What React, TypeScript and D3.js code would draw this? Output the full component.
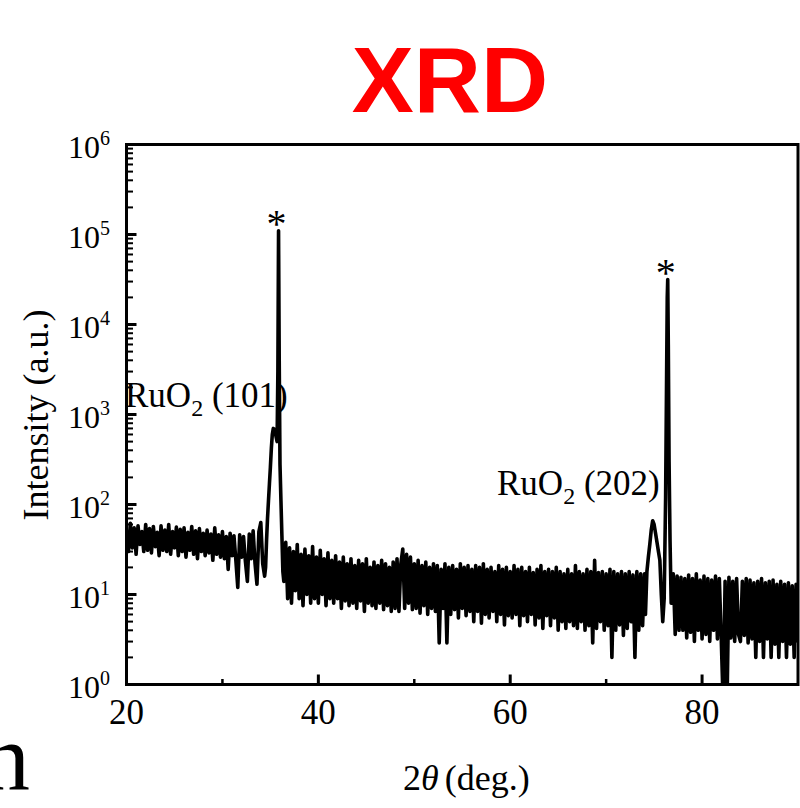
import React from "react";
import * as d3 from "d3";

const bgStart = 20;
const bgStep = 0.2;
const bgIntensity = [
  48, 30, 62, 33, 55, 28, 58, 36, 50, 30,
  60, 31, 54, 29, 57, 34, 49, 27, 58, 31,
  52, 30, 60, 28, 50, 33, 56, 27, 53, 30,
  55, 26, 49, 31, 57, 28, 51, 25, 54, 30,
  48, 27, 52, 29, 47, 24, 55, 28, 46, 26,
  50, 25, 44, 19, 48, 27, 45, 24, 12, 46,
  26, 44, 23, 14, 47, 25, 51, 22, 13, 50,
  63, 22, 16, 40, 110, 260, 600, 700, 640, 500,
  280, 45, 14, 38, 9, 33, 8, 30, 11, 36,
  9, 28, 7.5, 32, 10, 27, 8, 34, 9, 26,
  8, 31, 10, 25, 7.5, 29, 9, 24, 8, 27,
  9, 23, 7, 26, 8.5, 22, 7.5, 25, 8, 21,
  7, 24, 8.5, 22, 6.5, 25, 8, 20, 7.5, 23,
  7, 21, 8, 24, 6.8, 22, 7.5, 20, 6.5, 23,
  7, 25, 6.5, 22, 32, 7, 28, 8, 26, 6.8,
  22, 7, 24, 6.2, 21, 7.5, 23, 6, 20, 7,
  22, 6.5, 21, 2.9, 19, 7, 22, 2.9, 20, 6,
  21, 6.8, 19, 5.5, 22, 7, 20, 5.8, 21, 6.5,
  19, 5, 21, 6.5, 20, 4.8, 22, 6, 19, 5.5,
  20, 6.5, 18, 5, 21, 6, 19, 4.6, 20, 5.8,
  18, 5.5, 21, 6, 19, 4.5, 20, 5.8, 18, 5,
  20, 6, 17.5, 4.6, 19, 5.5, 21, 4.2, 18, 5.8,
  19, 4.5, 18, 5.5, 20, 4, 18, 5, 17, 4.2,
  19, 5, 17, 4.5, 21, 4.2, 18, 5, 17, 4,
  19, 4.5, 18, 2.9, 24, 4.2, 17.5, 5, 18, 4,
  17, 4.5, 19, 2, 18, 4, 17, 4.6, 18, 3.5,
  17, 4.2, 18, 5, 16.5, 2, 18, 4, 17, 4.5,
  17, 20, 45, 66, 50, 30, 12, 6, 4.5, 5,
  10, 200, 31600, 200, 10, 17, 3.6, 16, 4, 15.5,
  4, 15, 3.3, 16.5, 3.8, 15, 3, 17, 4, 14.5,
  3.2, 16, 3.6, 15, 3, 14.5, 4, 16, 3.2, 15,
  3.2, 0.6, 14, 0.6, 15.5, 3.3, 14, 3, 15, 3.6,
  3, 14, 3.5, 15, 2.9, 14.5, 3.2, 13.5, 2, 14,
  3, 15, 2, 13.5, 3.2, 14, 2, 14.5, 2.8, 13,
  2, 14, 3, 13, 2, 13.5, 2.8, 12.5, 2, 13,
  3,
];

// RuO2 (101) hump + substrate peak (fine sampling)
const peak101Theta = [34.5, 34.6, 34.7, 34.8, 34.9, 35.0, 35.1, 35.2, 35.3, 35.4, 35.5, 35.6, 35.7, 35.78, 35.85, 35.92, 36.0, 36.1, 36.2, 36.3];
const peak101Intensity = [20, 40, 70, 110, 170, 260, 420, 600, 700, 690, 640, 560, 500, 3000, 110000, 4000, 280, 110, 45, 18];

// RuO2 (202) hump + substrate peak (fine sampling)
const peak202Theta = [74.1, 74.25, 74.4, 74.55, 74.7, 74.85, 75.0, 75.15, 75.3, 75.45, 75.6, 75.75, 75.9, 76.05, 76.2, 76.3, 76.37, 76.42, 76.48, 76.56, 76.66, 76.78];
const peak202Intensity = [6, 18, 26, 36, 52, 66, 60, 48, 38, 30, 24, 10, 5, 9, 120, 2500, 20000, 31600, 6000, 300, 40, 8];

const xTicks = [20, 40, 60, 80];
const xMinorTicks = [30, 50, 70];
const yDecades = [0, 1, 2, 3, 4, 5, 6];
const xDomain = [20, 90];
const yDomain = [1, 1e6];

const annotationLabels = ["(101)", "(202)"];
const starPeakTheta = [35.85, 76.42];
const starPeakIntensity = [110000, 31600];

const W = 800;
const H = 808;
const M = { left: 126.5, right: 798, top: 144.5, bottom: 684.5 };

const serif = "'Liberation Serif', 'Times New Roman', serif";

export default function App() {
  const x = d3.scaleLinear().domain(xDomain).range([M.left, M.right]);
  const y = d3.scaleLog().domain(yDomain).range([M.bottom, M.top]);

  const inPeak = (t: number) => (t > 34.45 && t < 36.35) || (t > 74.05 && t < 76.9);
  const bg = bgIntensity
    .map((v, i) => ({ t: +(bgStart + i * bgStep).toFixed(2), v }))
    .filter((d) => !inPeak(d.t));
  const p1 = peak101Theta.map((t, i) => ({ t, v: peak101Intensity[i] }));
  const p2 = peak202Theta.map((t, i) => ({ t, v: peak202Intensity[i] }));
  const data = [...bg, ...p1, ...p2].sort((a, b) => a.t - b.t);

  const line = d3
    .line<{ t: number; v: number }>()
    .x((d) => x(d.t))
    .y((d) => y(Math.max(d.v, 0.3)));

  const minorY: number[] = [];
  for (let k = 0; k < 6; k++) for (let m = 2; m <= 9; m++) minorY.push(m * Math.pow(10, k));

  const annPos = [
    { x: 125, y: 407 },
    { x: 497, y: 495 },
  ];

  return (
    <>
      <style>{`body{margin:0}`}</style>
      <svg width={W} height={H} style={{ display: "block", background: "#fff" }}>
        <defs>
          <clipPath id="plot">
            <rect x={M.left} y={M.top} width={M.right - M.left} height={M.bottom - M.top} />
          </clipPath>
        </defs>

        <text x={450} y={112} textAnchor="middle" fontFamily="'Liberation Sans', Arial, sans-serif" fontWeight="bold" fontSize={93} fill="#ff0000">
          XRD
        </text>

        <g clipPath="url(#plot)">
          <path d={line(data) || ""} fill="none" stroke="#000" strokeWidth={3.6} strokeLinejoin="round" strokeLinecap="round" />
        </g>

        {/* frame */}
        <rect x={M.left} y={M.top} width={M.right - M.left} height={M.bottom - M.top} fill="none" stroke="#000" strokeWidth={3} />

        {/* x ticks */}
        {xTicks.map((t) => (
          <line key={"xt" + t} x1={x(t)} x2={x(t)} y1={M.bottom} y2={M.bottom - 10} stroke="#000" strokeWidth={3} />
        ))}
        {xMinorTicks.map((t) => (
          <line key={"xm" + t} x1={x(t)} x2={x(t)} y1={M.bottom} y2={M.bottom - 5.5} stroke="#000" strokeWidth={2.5} />
        ))}
        {xTicks.map((t) => (
          <text key={"xl" + t} x={x(t)} y={724} textAnchor="middle" fontFamily={serif} fontSize={35}>
            {t}
          </text>
        ))}

        {/* y ticks */}
        {yDecades.map((k) => (
          <line key={"yt" + k} x1={M.left} x2={M.left + 10} y1={y(Math.pow(10, k))} y2={y(Math.pow(10, k))} stroke="#000" strokeWidth={3} />
        ))}
        {minorY.map((v) => (
          <line key={"ym" + v} x1={M.left} x2={M.left + 6.5} y1={y(v)} y2={y(v)} stroke="#000" strokeWidth={2} />
        ))}
        {yDecades.map((k) => (
          <g key={"yl" + k} fontFamily={serif}>
            <text x={100} y={y(Math.pow(10, k)) + 13} textAnchor="end" fontSize={32}>
              10
            </text>
            <text x={100} y={y(Math.pow(10, k)) + 0.5} textAnchor="start" fontSize={20}>
              {k}
            </text>
          </g>
        ))}

        {/* axis labels */}
        <text x={403} y={790} fontFamily={serif} fontSize={36}>
          2<tspan fontStyle="italic">θ</tspan>
          <tspan dx={6}>(deg.)</tspan>
        </text>
        <text transform="translate(48,415) rotate(-90)" textAnchor="middle" fontFamily={serif} fontSize={36}>
          Intensity (a.u.)
        </text>

        {/* annotations */}
        {annotationLabels.map((lab, i) => (
          <text key={"a" + i} x={annPos[i].x} y={annPos[i].y} fontFamily={serif} fontSize={35}>
            RuO<tspan fontSize={24} dy={9}>2</tspan>
            <tspan dy={-9}> {lab}</tspan>
          </text>
        ))}
        {starPeakTheta.map((t, i) => (
          <text key={"s" + i} x={x(t) - 2} y={y(starPeakIntensity[i]) + 6} textAnchor="middle" fontFamily={serif} fontSize={40}>
            *
          </text>
        ))}

        {/* cropped letter at bottom-left */}
        <text x={30} y={790} textAnchor="end" fontFamily={serif} fontSize={96}>
          n
        </text>
      </svg>
    </>
  );
}
